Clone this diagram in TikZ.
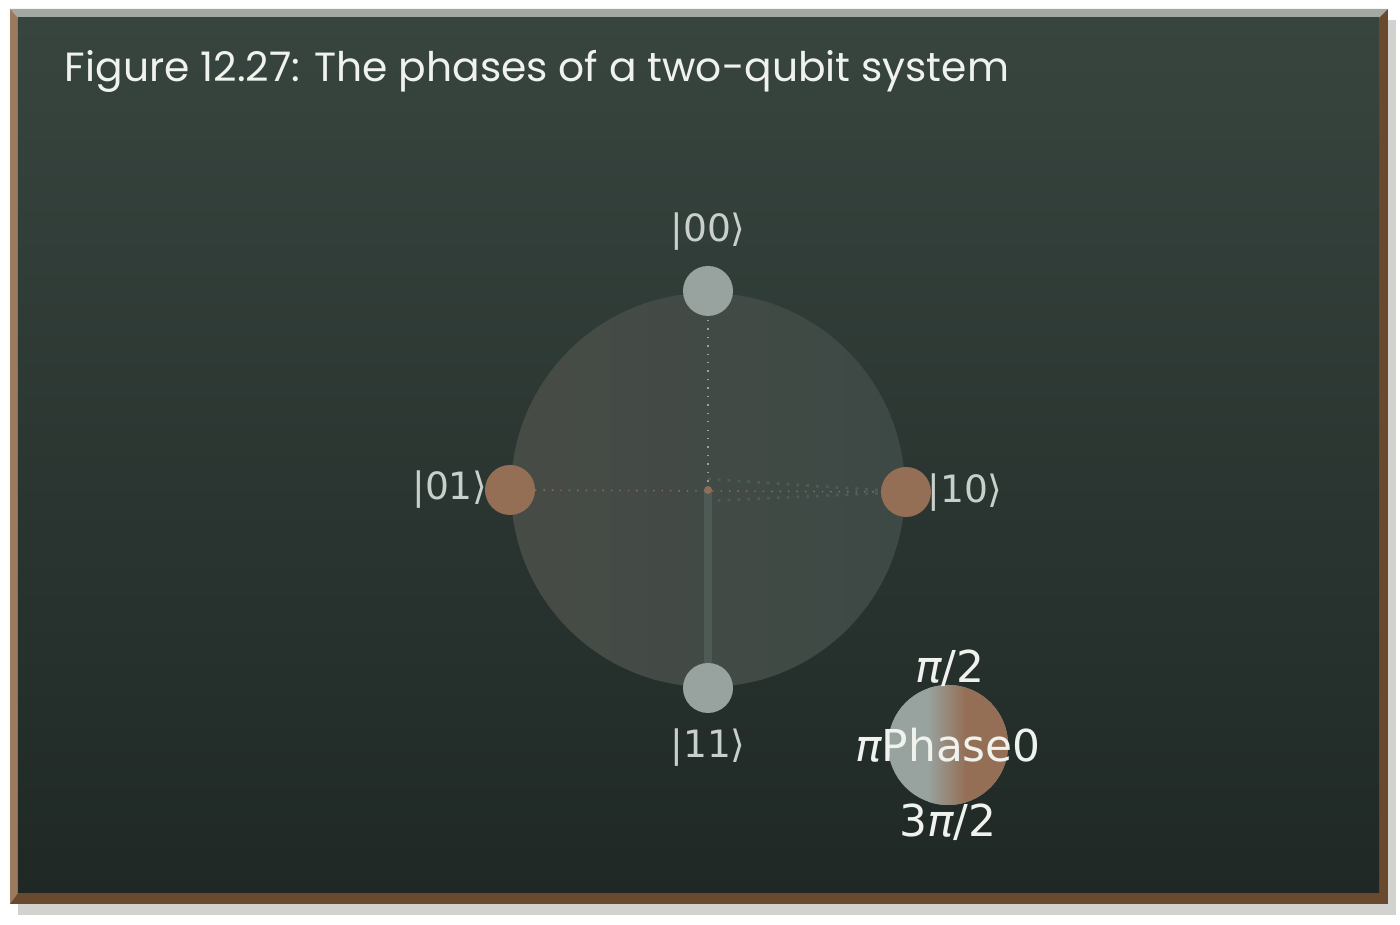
\documentclass[tikz,border=0pt]{standalone}
\usepackage{fontspec}
\setmainfont{DejaVu Sans}
\newfontfamily\chalkfont{Poppins}
\usetikzlibrary{positioning}

\definecolor{shadowgray}{HTML}{D2D2CE}
\definecolor{framedark}{HTML}{6A4A2E}
\definecolor{framelight}{HTML}{9C7A5E}
\definecolor{frametop}{HTML}{A2A9A3}
\definecolor{boardtop}{HTML}{38453F}
\definecolor{boardbot}{HTML}{1F2825}
\definecolor{spherewarm}{HTML}{474B45}
\definecolor{spherecool}{HTML}{3D4945}
\definecolor{qgray}{HTML}{98A29E}
\definecolor{qbrown}{HTML}{946F55}
\definecolor{ketgray}{HTML}{C9CFCB}
\definecolor{chalk}{HTML}{F0F2EE}
\definecolor{stem}{HTML}{4D5A56}
\definecolor{dotline}{HTML}{8E6E58}

\begin{document}
\begin{tikzpicture}[scale=1.0]
\tikzset{ inner sep=0pt, outer sep=0pt,
  qubit/.style={circle, minimum size=5mm},
  ket/.style={text=ketgray, font=\fontsize{10.7}{12}\selectfont},
  phase/.style={text=chalk, font=\fontsize{12.5}{14}\selectfont},
}

%%% Quadro

% fundo e sombra
\fill[white] (0,0) rectangle (14,9.25);
\fill[shadowgray] (0.18,0.10) rectangle (13.96,9.05);

% moldura
\fill[framedark] (0.10,0.21) rectangle (13.88,9.16);
\fill[framelight] (0.10,0.21) -- (0.18,0.32) -- (0.18,9.07) -- (0.10,9.16) -- cycle;
\fill[frametop] (0.10,9.16) -- (0.18,9.07) -- (13.79,9.07) -- (13.88,9.16) -- cycle;

% lousa
\shade[top color=boardtop, bottom color=boardbot] (0.18,0.32) rectangle (13.79,9.07);

% titulo
\node[anchor=base west, text=chalk, font=\chalkfont\fontsize{11.6}{13}\selectfont] (titulo) at (0.65,8.43) {Figure 12.27: The phases of a two-qubit system};

%%% Esfera

\node[circle, minimum size=3.94cm, left color=spherewarm, right color=spherecool] (esfera) at (7.08,4.35) { };
\coordinate (C) at (7.08,4.35);
\coordinate (F1) at (7.08,4.46);
\coordinate (F2) at (7.08,4.24);

% qubits
\node[qubit, fill=qgray]  (q00) at (7.08,6.34) { };
\node[qubit, fill=qbrown] (q01) at (5.10,4.35) { };
\node[qubit, fill=qbrown] (q10) at (9.06,4.33) { };
\node[qubit, fill=qgray]  (q11) at (7.08,2.37) { };

%%% Linhas

% centro -> |00> e |11>
\draw[dotted, thin, qgray] (C) -- (q00);
\draw[line width=2pt, stem] (C) -- (q11);

% |01> -> |10>
\draw[dotted, dotline] (q01) -- (q10);
\draw[dotted, thick, stem] (F1) -- (q10);
\draw[dotted, thick, stem] (F2) -- (q10);
\fill[dotline] (C) circle (0.04);

% rotulos
\node[ket] (k00) at (7.08,6.93) {|00⟩};
\node[ket] (k01) at (4.50,4.35) {|01⟩};
\node[ket] (k10) at (9.65,4.32) {|10⟩};
\node[ket] (k11) at (7.08,1.77) {|11⟩};

%%% Legenda de fase

\node[circle, minimum size=1.2cm, fill=qgray] (fase) at (9.48,1.80) { };
\begin{scope}
\clip (fase.center) circle (0.6);
\shade[left color=qgray, right color=qbrown] (9.28,1.2) rectangle (9.66,2.4);
\fill[qbrown] (9.65,1.2) rectangle (10.1,2.4);
\end{scope}

\node[phase] (p90)  at (9.50,2.57) {{\itshape π}/2};
\node[phase] (p0)   at (9.48,1.80) {{\itshape π}Phase0};
\node[phase] (p270) at (9.48,1.03) {3{\itshape π}/2};

\end{tikzpicture}
\end{document}
